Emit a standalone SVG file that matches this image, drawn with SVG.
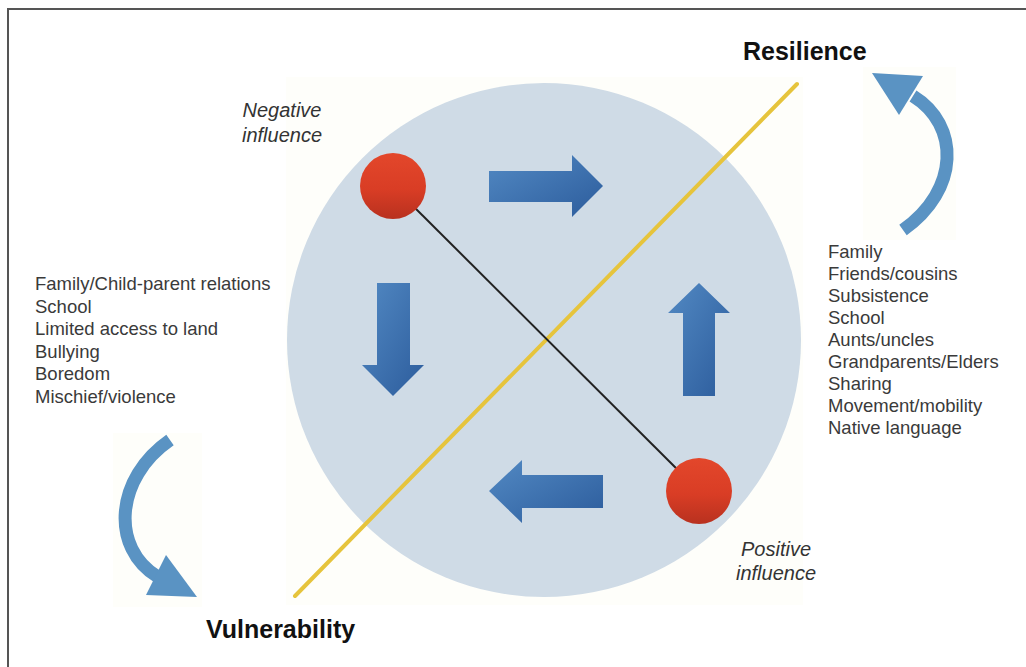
<svg xmlns="http://www.w3.org/2000/svg" width="1026" height="667" viewBox="0 0 1026 667">
  <style>
    .list { font-family: "Liberation Sans", Arial, sans-serif; font-size: 18.5px; fill: #3a3a3a; }
    .pole { font-family: "Liberation Sans", Arial, sans-serif; font-size: 25px; font-weight: bold; fill: #111; }
    .infl { font-family: "Liberation Sans", Arial, sans-serif; font-size: 20px; font-style: italic; fill: #333; text-anchor: middle; }
    .flow { fill: url(#flowGrad); }
    .swing { fill: none; stroke: #5a93c3; stroke-width: 13; }
    .swingHead { fill: #5a93c3; }
    .ball { fill: url(#ballGrad); }
    .haze { fill: #fefefa; }
  </style>
  <defs>
    <linearGradient id="flowGrad" x1="0" y1="0" x2="1" y2="1">
      <stop offset="0" stop-color="#5289c3"/>
      <stop offset="1" stop-color="#2c5c9c"/>
    </linearGradient>
    <linearGradient id="ballGrad" x1="0" y1="0" x2="0" y2="1">
      <stop offset="0" stop-color="#e3472b"/>
      <stop offset="0.55" stop-color="#d93d25"/>
      <stop offset="1" stop-color="#b8311f"/>
    </linearGradient>
  </defs>

  <rect width="1026" height="667" fill="#ffffff"/>

  <!-- frame: left and top edges -->
  <path d="M8 667 V9 H1026" fill="none" stroke="#555" stroke-width="2"/>

  <!-- soft backdrops behind the pictures -->
  <rect class="haze" x="286" y="77" width="517" height="528"/>
  <rect class="haze" x="863" y="67" width="93" height="173"/>
  <rect class="haze" x="113" y="433" width="89" height="174"/>

  <!-- central disc -->
  <g id="disc">
    <circle cx="544" cy="340" r="257" fill="#cfdbe6"/>
  </g>

  <!-- connectors -->
  <g id="connectors">
    <!-- resilience / vulnerability axis -->
    <line x1="295" y1="596" x2="797" y2="84" stroke="#e6c43c" stroke-width="4" stroke-linecap="round"/>
    <!-- influence axis -->
    <line x1="393" y1="186" x2="699" y2="491" stroke="#222" stroke-width="2"/>

    <!-- cycle arrows -->
    <path id="flow-right" class="flow" d="M489 171 H572 V155 L603 186 L572 217 V202 H489 Z"/>
    <path id="flow-down" class="flow" d="M377 283 H410 V365 H424 L393 396 L362 365 H377 Z"/>
    <path id="flow-up" class="flow" d="M683 396 V313 H668 L699 283 L730 313 H715 V396 Z"/>
    <path id="flow-left" class="flow" d="M603 475 V508 H522 V523 L489 491 L522 460 V475 Z"/>

    <!-- curved arrow toward Resilience -->
    <g id="to-resilience">
      <path class="swing" d="M903 230 C960 190 960 125 913 96"/>
      <polygon class="swingHead" points="872,73 923,76 899,115"/>
    </g>
    <!-- curved arrow toward Vulnerability -->
    <g id="to-vulnerability">
      <path class="swing" d="M170 440 C115 478 110 548 158 577"/>
      <polygon class="swingHead" points="197,597 146,595 166,555"/>
    </g>
  </g>

  <!-- influence nodes -->
  <g id="node-negative">
    <circle class="ball" cx="393" cy="186" r="33"/>
    <text class="infl" x="282" y="117">Negative</text>
    <text class="infl" x="282" y="142">influence</text>
  </g>
  <g id="node-positive">
    <circle class="ball" cx="699" cy="491" r="33"/>
    <text class="infl" x="776" y="556">Positive</text>
    <text class="infl" x="776" y="580">influence</text>
  </g>

  <!-- poles -->
  <g id="node-resilience">
    <text class="pole" x="743" y="60">Resilience</text>
  </g>
  <g id="node-vulnerability">
    <text class="pole" x="206" y="638">Vulnerability</text>
  </g>

  <!-- risk factors -->
  <g id="node-risks">
    <text class="list" x="35" y="290">Family/Child-parent relations</text>
    <text class="list" x="35" y="312.5">School</text>
    <text class="list" x="35" y="335">Limited access to land</text>
    <text class="list" x="35" y="357.5">Bullying</text>
    <text class="list" x="35" y="380">Boredom</text>
    <text class="list" x="35" y="402.5">Mischief/violence</text>
  </g>

  <!-- protective factors -->
  <g id="node-strengths">
    <text class="list" x="828" y="258">Family</text>
    <text class="list" x="828" y="280">Friends/cousins</text>
    <text class="list" x="828" y="302">Subsistence</text>
    <text class="list" x="828" y="323.5">School</text>
    <text class="list" x="828" y="345.5">Aunts/uncles</text>
    <text class="list" x="828" y="367.5">Grandparents/Elders</text>
    <text class="list" x="828" y="389.5">Sharing</text>
    <text class="list" x="828" y="411.5">Movement/mobility</text>
    <text class="list" x="828" y="433.5">Native language</text>
  </g>
</svg>
